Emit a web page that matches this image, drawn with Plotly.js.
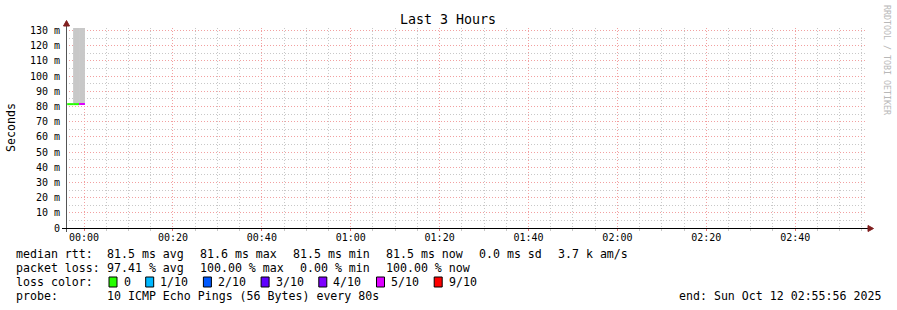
<!DOCTYPE html>
<html><head><meta charset="utf-8">
<script src="https://cdn.plot.ly/plotly-3.0.1.min.js"></script>
<style>html,body{margin:0;padding:0;background:#fff}</style>
</head><body><div id="chart" style="width:897px;height:310px"></div>
<script>
// ---- data ----
const rangeStart = '2025-10-11 23:55:56';
const rangeEnd = '2025-10-12 02:55:56';
const stepSeconds = 80;
const stepStart = ['2025-10-11 23:56:12', '2025-10-11 23:57:32', '2025-10-11 23:58:52'];
const medianMs = [81.5, 81.5, 81.6];
const lossCount = [0, 0, 5];
const smokeLowMs = [null, 81.5, 81.5];
const smokeHighMs = [null, 135, 135];
const yTickVals = [0, 10, 20, 30, 40, 50, 60, 70, 80, 90, 100, 110, 120, 130];
const yTickText = ['0', '10 m', '20 m', '30 m', '40 m', '50 m', '60 m', '70 m', '80 m', '90 m', '100 m', '110 m', '120 m', '130 m'];
const lossLevels = [0, 1, 2, 3, 4, 5, 9];
const lossLabels = ['0', '1/10', '2/10', '3/10', '4/10', '5/10', '9/10'];
const lossColors = ['#26ff00', '#00b8ff', '#0059ff', '#5e00ff', '#7e00ff', '#dd00ff', '#ff0000'];
const rttStats = ['81.5 ms avg', '81.6 ms max', '81.5 ms min', '81.5 ms now', '0.0 ms sd', '3.7 k am/s'];
const lossStats = ['97.41 % avg', '100.00 % max', '0.00 % min', '100.00 % now'];
const probeText = '10 ICMP Echo Pings (56 Bytes) every 80s';
const endText = 'end: Sun Oct 12 02:55:56 2025';
const titleText = 'Last 3 Hours';
const yTitle = 'Seconds';
const watermark = 'RRDTOOL / TOBI OETIKER';

// ---- helpers ----
const toMs = s => Date.parse(s.replace(' ', 'T') + 'Z');
const MONO = 'DejaVu Sans Mono, monospace';
const L = 66, T = 28, PW = 800, PH = 200;
const px = x => (x - L) / PW;
const py = y => (T + PH - y) / PH;
const CW = 7; // legend char width

const traces = [];
// smoke
const sx = [], sy = [], sb = [];
stepStart.forEach((s, i) => {
  if (smokeLowMs[i] == null) return;
  sx.push(toMs(s) + stepSeconds * 500);
  sb.push(smokeLowMs[i]);
  sy.push(smokeHighMs[i] - smokeLowMs[i]);
});
traces.push({type: 'bar', x: sx, y: sy, base: sb, width: stepSeconds * 1000,
  marker: {color: '#c8c8c8', line: {width: 0}}, hoverinfo: 'skip', showlegend: false});
// median segments coloured by loss
stepStart.forEach((s, i) => {
  const t0 = toMs(s);
  traces.push({type: 'scatter', mode: 'lines', x: [t0, t0 + stepSeconds * 1000], y: [medianMs[i], medianMs[i]],
    line: {color: lossColors[lossLevels.indexOf(lossCount[i])], width: 2}, hoverinfo: 'skip', showlegend: false});
});

const annotations = [];
const ann = (x, y, text, extra) => annotations.push(Object.assign({
  xref: 'paper', yref: 'paper', x: px(x), y: py(y), text: text, showarrow: false,
  xanchor: 'left', yanchor: 'middle', xshift: -2, font: {family: MONO, size: 11.6, color: '#000'}
}, extra || {}));

ann(448, 19, titleText, {xanchor: 'center', xshift: 0, font: {family: MONO, size: 13.3, color: '#000'}});
ann(11, 127, yTitle, {xanchor: 'center', xshift: 0, textangle: -90});
ann(887, 60, watermark, {xanchor: 'center', xshift: 0, textangle: 90, font: {family: MONO, size: 8.3, color: '#b8b8b8'}});

const rows = [254, 268, 282, 296];
const TAB = 107, GAP = 16;
ann(16, rows[0], 'median rtt:');
let cx = TAB;
rttStats.forEach(t => { ann(cx, rows[0], t); cx += t.length * CW + GAP; });
ann(16, rows[1], 'packet loss:');
cx = TAB;
lossStats.forEach(t => { ann(cx, rows[1], t); cx += t.length * CW + GAP; });
ann(16, rows[2], 'loss color:');
const shapes = [];
cx = 109;
lossLabels.forEach((t, i) => {
  shapes.push({type: 'rect', xref: 'paper', yref: 'paper', x0: px(cx), x1: px(cx + 8), y0: py(rows[2] - 5), y1: py(rows[2] + 5),
    fillcolor: lossColors[i], line: {color: '#000', width: 1}});
  ann(cx + 14.7, rows[2], t);
  cx += 14.7 + t.length * CW + 15;
});
ann(16, rows[3], 'probe:');
ann(TAB, rows[3], probeText);
ann(881, rows[3], endText, {xanchor: 'right', xshift: 2});

// axes lines and arrows
shapes.push({type: 'line', xref: 'paper', yref: 'paper', x0: px(66.5), x1: px(66.5), y0: py(232), y1: py(22), line: {color: '#555', width: 1}});
shapes.push({type: 'line', xref: 'paper', yref: 'paper', x0: px(62), x1: px(869), y0: py(228.5), y1: py(228.5), line: {color: '#000', width: 1}});
shapes.push({type: 'path', xref: 'paper', yref: 'paper', fillcolor: '#801f1f', line: {color: '#801f1f', width: 1},
  path: `M ${px(66.5)},${py(20.5)} L ${px(63.5)},${py(26)} L ${px(69.5)},${py(26)} Z`});
shapes.push({type: 'path', xref: 'paper', yref: 'paper', fillcolor: '#801f1f', line: {color: '#801f1f', width: 1},
  path: `M ${px(873.5)},${py(228.5)} L ${px(868)},${py(225.5)} L ${px(868)},${py(231.5)} Z`});

const layout = {
  width: 897, height: 310,
  margin: {l: L, r: 897 - L - PW, t: T, b: 310 - T - PH, pad: 0},
  paper_bgcolor: '#fff', plot_bgcolor: '#fff',
  showlegend: false, barmode: 'overlay',
  xaxis: {type: 'date', range: [toMs(rangeStart), toMs(rangeEnd)], tick0: toMs('2025-10-12 00:00:00'), dtick: 1200000,
    tickformat: '%H:%M', showgrid: true, gridcolor: '#f2a0a0', griddash: '1px,2px', gridwidth: 1,
    ticks: 'outside', ticklen: 2, tickcolor: '#e07070', zeroline: false, showline: false, fixedrange: true,
    ticklabelstandoff: -2,
    tickfont: {family: MONO, size: 10, color: '#000'},
    minor: {tick0: toMs('2025-10-12 00:00:00'), dtick: 300000, showgrid: true, gridcolor: '#c8c8c8', griddash: '1px,2px', gridwidth: 1,
      ticks: 'outside', ticklen: 2, tickcolor: '#c8c8c8'}},
  yaxis: {range: [0, 131.6], tickmode: 'array', tickvals: yTickVals, ticktext: yTickText,
    showgrid: true, gridcolor: '#f2a0a0', griddash: '1px,2px', gridwidth: 1, ticks: '', zeroline: false, showline: false,
    ticklabelstandoff: 5, fixedrange: true, tickfont: {family: MONO, size: 10, color: '#000'},
    minor: {tick0: 0, dtick: 5, showgrid: true, gridcolor: '#c8c8c8', griddash: '1px,2px', gridwidth: 1}},
  annotations: annotations, shapes: shapes
};
Plotly.newPlot('chart', traces, layout, {displayModeBar: false, staticPlot: true});
</script></body></html>
